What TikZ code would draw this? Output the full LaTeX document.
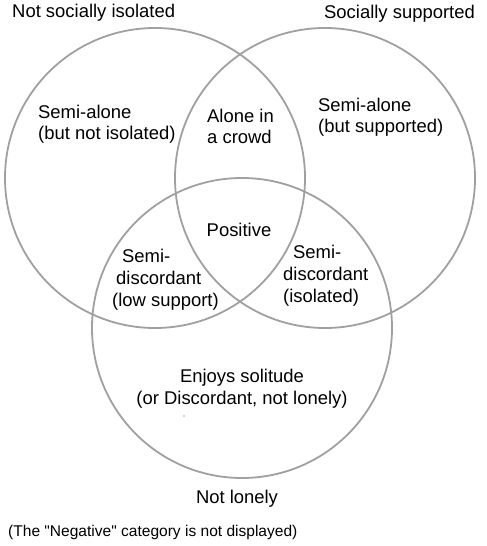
\documentclass[tikz,border=0pt]{standalone}
\usepackage{fontspec}
\setmainfont{Liberation Sans}[Ligatures=TeXOff]
\definecolor{ring}{RGB}{160,160,160}
\begin{document}
\begin{tikzpicture}[x=1bp,y=-1bp,
  ring/.style={draw=ring,line width=1.8bp},
  lbl/.style={inner sep=0pt,font=\fontsize{18.5}{22}\selectfont},
  lblL/.style={lbl,align=left,anchor=base west},
  small/.style={inner sep=0pt,font=\fontsize{15.6}{18}\selectfont,anchor=base west}]
\useasboundingbox (0,0) rectangle (487,546);
\fill[white] (0,0) rectangle (487,546);
\node[ring,circle,minimum size=300bp,inner sep=0pt] (A) at (155,178) {};
\node[ring,circle,minimum size=300bp,inner sep=0pt] (B) at (325,178) {};
\node[ring,circle,minimum size=300bp,inner sep=0pt] (C) at (242,328) {};
\node[lbl,anchor=base west] (tA) at (12,18) {Not socially isolated};
\node[lbl,anchor=base east] (tB) at (475,19) {Socially supported};
\node[lbl,anchor=base] (tC) at (237,503) {Not lonely};
\node[lblL] (r1) at (38,140) {Semi-alone\\(but not isolated)};
\node[lblL] (r2) at (207,144) {Alone in\\a crowd};
\node[lblL] (r3) at (318,133) {Semi-alone\\(but supported)};
\node[lbl,anchor=base] (r4) at (239,236) {Positive};
\node[lblL] (r5) at (112,306) {\hspace*{10bp}Semi-\\\hspace*{4bp}discordant\\(low support)};
\node[lblL] (r6) at (283,302) {\hspace*{10bp}Semi-\\discordant\\(isolated)};
\node[lbl,align=center,anchor=base] (r7) at (242,404) {Enjoys solitude\\(or Discordant, not lonely)};
\fill[black!70] (184,416) circle (0.6bp);
\node[small] (cap) at (8,536) {(The "Negative" category is not displayed)};
\end{tikzpicture}
\end{document}
